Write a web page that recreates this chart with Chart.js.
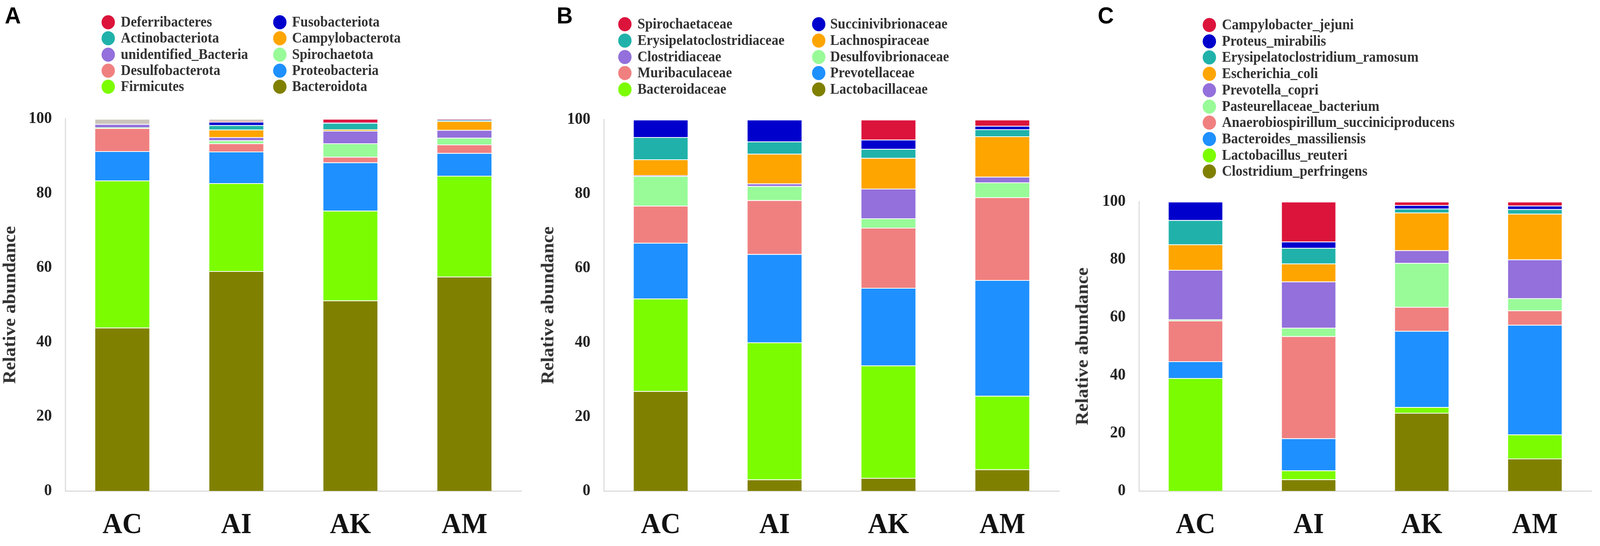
<!DOCTYPE html>
<html>
<head>
<meta charset="utf-8">
<script src="https://cdn.jsdelivr.net/npm/chart.js@4.4.1/dist/chart.umd.min.js"></script>
<style>
  html, body { margin: 0; background: #fff; overflow: hidden; }
  #page { width: 4317px; height: 1398px; position: relative; transform-origin: 0 0; }
  canvas { position: absolute; }
  .tag { position: absolute; font: bold 60px 'Liberation Sans', Arial, sans-serif; color: #000; line-height: 60px; }
  .key { position: absolute; font: bold 37px 'Liberation Serif', 'Times New Roman', serif; color: #333; white-space: nowrap; line-height: 40px; }
  .dot { position: absolute; width: 36px; height: 36px; border-radius: 50%; }
</style>
</head>
<body>
<div id="page">
  <div class="tag" style="left:13px;top:10px">A</div>
  <div class="tag" style="left:1502px;top:10px">B</div>
  <div class="tag" style="left:2962px;top:10px">C</div>
  <canvas id="chartA"></canvas>
  <canvas id="chartB"></canvas>
  <canvas id="chartC"></canvas>
  <div id="legends"></div>
</div>
<script>
const groups = ['AC', 'AI', 'AK', 'AM'];
const yTicks = [0, 20, 40, 60, 80, 100];

// stacking order: first entry sits at the bottom of the bar
const phylumNames = ['Bacteroidota', 'Firmicutes', 'Proteobacteria', 'Desulfobacterota', 'Spirochaetota',
  'unidentified_Bacteria', 'Campylobacterota', 'Actinobacteriota', 'Fusobacteriota', 'Deferribacteres'];
const phylumValues = [
  [43.9, 59.1, 51.2, 57.6],
  [39.5, 23.6, 24.1, 27.1],
  [7.9, 8.5, 13.0, 6.1],
  [6.2, 2.2, 1.5, 2.3],
  [0.2, 0.8, 3.6, 1.8],
  [0.9, 0.9, 3.4, 2.1],
  [0.0, 2.0, 0.4, 2.4],
  [0.0, 1.2, 1.7, 0.2],
  [0.0, 0.9, 0.1, 0.1],
  [0.0, 0.2, 1.0, 0.1]
];
const phylumOthers = [1.4, 0.6, 0.0, 0.2];

const familyNames = ['Lactobacillaceae', 'Bacteroidaceae', 'Prevotellaceae', 'Muribaculaceae', 'Desulfovibrionaceae',
  'Clostridiaceae', 'Lachnospiraceae', 'Erysipelatoclostridiaceae', 'Succinivibrionaceae', 'Spirochaetaceae'];
const familyValues = [
  [26.9, 3.1, 3.5, 5.8],
  [24.9, 36.9, 30.3, 19.8],
  [15.0, 23.8, 20.9, 31.2],
  [10.0, 14.5, 16.2, 22.3],
  [8.0, 3.8, 2.5, 4.0],
  [0.2, 0.7, 8.0, 1.5],
  [4.3, 8.0, 8.3, 10.9],
  [6.0, 3.3, 2.4, 1.9],
  [4.7, 5.9, 2.5, 0.9],
  [0.0, 0.0, 5.4, 1.7]
];

const speciesNames = ['Clostridium_perfringens', 'Lactobacillus_reuteri', 'Bacteroides_massiliensis',
  'Anaerobiospirillum_succiniciproducens', 'Pasteurellaceae_bacterium', 'Prevotella_copri', 'Escherichia_coli',
  'Erysipelatoclostridium_ramosum', 'Proteus_mirabilis', 'Campylobacter_jejuni'];
const speciesValues = [
  [0.0, 4.0, 27.0, 11.2],
  [39.0, 3.1, 2.0, 8.3],
  [5.8, 11.1, 26.3, 37.9],
  [14.1, 35.3, 8.3, 5.0],
  [0.4, 2.9, 15.2, 4.2],
  [17.1, 16.0, 4.4, 13.4],
  [8.8, 6.2, 13.0, 15.8],
  [8.4, 5.4, 1.4, 1.6],
  [6.4, 2.2, 1.2, 1.2],
  [0.0, 13.8, 1.2, 1.4]
];

const palette = ['#808000', '#7CFC00', '#1E90FF', '#F08080', '#98FB98',
  '#9370DB', '#FFA500', '#20B2AA', '#0000CD', '#DC143C'];
const othersColor = '#cbc5ba';

const serif = "'Liberation Serif', 'Times New Roman', serif";

function makeChart(id, names, values, box, extra) {
  const cv = document.getElementById(id);
  const padTop = 40, padRight = 20, axisH = 1398 - box.bottom;
  const left = box.titleX - 29;
  cv.style.left = left + 'px';
  cv.style.top = (box.top - padTop) + 'px';
  cv.width = box.right + padRight - left;
  cv.height = 1398 - (box.top - padTop);

  const datasets = names.map((n, i) => ({
    label: n,
    data: values[i],
    backgroundColor: palette[i],
    borderColor: '#ffffff',
    borderWidth: { top: 2, bottom: 0, left: 0, right: 0 }
  }));
  if (extra) {
    datasets.push({ label: 'Others', data: extra, backgroundColor: othersColor,
      borderColor: '#ffffff', borderWidth: { top: 2, bottom: 0, left: 0, right: 0 } });
  }

  return new Chart(cv, {
    type: 'bar',
    data: { labels: groups, datasets: datasets },
    options: {
      responsive: false,
      animation: false,
      devicePixelRatio: 1,
      layout: { padding: { top: padTop, right: padRight, left: 0, bottom: 0 } },
      plugins: { legend: { display: false }, tooltip: { enabled: false } },
      datasets: { bar: { categoryPercentage: 1, barPercentage: 0.475 } },
      scales: {
        x: {
          stacked: true,
          grid: { display: false, drawTicks: false },
          border: { display: true, color: '#dcdcdc', width: 3 },
          ticks: { padding: 44, color: '#111', font: { family: serif, size: 74, weight: 'bold' } },
          afterFit: s => { s.height = axisH; }
        },
        y: {
          stacked: true,
          min: 0,
          max: 100,
          grid: { display: false, drawTicks: false },
          border: { display: true, color: '#dcdcdc', width: 3 },
          afterBuildTicks: s => { s.ticks = yTicks.map(v => ({ value: v })); },
          ticks: { padding: 36, color: '#222', font: { family: serif, size: 42, weight: 'bold' } },
          title: { display: true, text: 'Relative abundance', color: '#333', padding: 0,
                   font: { family: serif, size: 48, weight: 'bold' } },
          afterFit: s => { s.width = box.left - left; }
        }
      }
    }
  });
}

function drawLegend(names, cols, dotX, textX, firstY, rowH) {
  const holder = document.getElementById('legends');
  const items = names.map((n, i) => ({ name: n, color: palette[i] })).reverse();
  items.forEach((it, k) => {
    const row = Math.floor(k / cols), col = k % cols;
    const cy = firstY + row * rowH;
    const d = document.createElement('div');
    d.className = 'dot';
    d.style.background = it.color;
    d.style.left = (dotX[col] - 18) + 'px';
    d.style.top = (cy - 18) + 'px';
    holder.appendChild(d);
    const t = document.createElement('div');
    t.className = 'key';
    t.textContent = it.name;
    t.style.left = textX[col] + 'px';
    t.style.top = (cy - 21) + 'px';
    holder.appendChild(t);
  });
}

makeChart('chartA', phylumNames, phylumValues, { left: 176, right: 1407, top: 283, bottom: 1257, titleX: 29 }, phylumOthers);
makeChart('chartB', familyNames, familyValues, { left: 1629, right: 2858, top: 285, bottom: 1257, titleX: 1481 });
makeChart('chartC', speciesNames, speciesValues, { left: 3073, right: 4294, top: 495, bottom: 1257, titleX: 2923 });

drawLegend(phylumNames, 2, [292, 755], [326, 788], 57, 41.3);
drawLegend(familyNames, 2, [1686, 2209], [1720, 2240], 62, 41.8);
drawLegend(speciesNames, 1, [3263], [3297], 64, 41.7);

// the window may be narrower than the 4317px design: squeeze it to fit
const fitX = Math.min(1, window.innerWidth / 4317);
document.getElementById('page').style.transform = 'scaleX(' + fitX + ')';
</script>
</body>
</html>
